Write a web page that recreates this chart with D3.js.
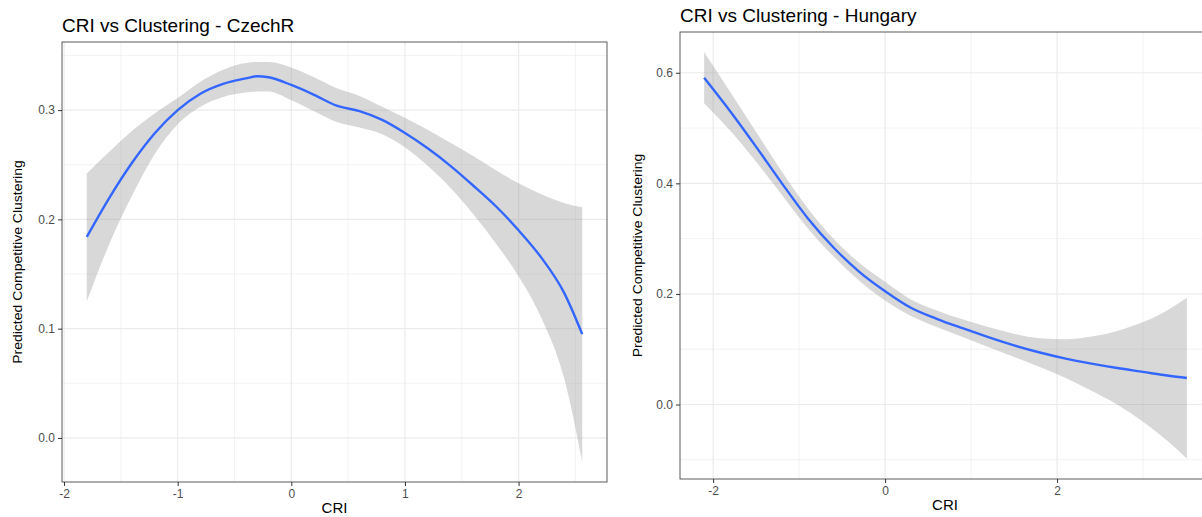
<!DOCTYPE html>
<html>
<head>
<meta charset="utf-8">
<script src="https://cdn.jsdelivr.net/npm/d3@7"></script>
<style>
  body { margin: 0; background: #fff; }
  svg { display: block; font-family: "Liberation Sans", Arial, sans-serif; }
  .grid line { stroke: #ebebeb; }
  .axis path { display: none; }
  .axis line { stroke: #333; }
  .axis text { fill: #4d4d4d; font-size: 12px; }
</style>
</head>
<body>
<div id="chart"></div>
<script>
// CzechR
const czCri = [-1.8, -1.6, -1.4, -1.2, -1.0, -0.8, -0.6, -0.4, -0.3, -0.2, 0.0, 0.2, 0.4, 0.6, 0.8, 1.0, 1.2, 1.4, 1.6, 1.8, 2.0, 2.2, 2.4, 2.56];
const czFit = [0.184, 0.220, 0.252, 0.279, 0.300, 0.315, 0.324, 0.329, 0.331, 0.330, 0.323, 0.314, 0.304, 0.299, 0.291, 0.279, 0.265, 0.249, 0.231, 0.212, 0.190, 0.165, 0.133, 0.095];
const czUpper = [0.242, 0.262, 0.281, 0.297, 0.311, 0.326, 0.337, 0.343, 0.344, 0.344, 0.339, 0.330, 0.320, 0.313, 0.303, 0.293, 0.282, 0.270, 0.258, 0.245, 0.233, 0.223, 0.215, 0.211];
const czLower = [0.125, 0.178, 0.222, 0.260, 0.287, 0.303, 0.312, 0.316, 0.317, 0.317, 0.309, 0.299, 0.289, 0.284, 0.278, 0.266, 0.249, 0.229, 0.205, 0.178, 0.148, 0.110, 0.055, -0.022];
const czXTicks = [-2, -1, 0, 1, 2];
const czYTicks = [0.0, 0.1, 0.2, 0.3];

// Hungary
const huCri = [-2.105, -1.8, -1.5, -1.2, -0.9, -0.6, -0.3, 0, 0.3, 0.6, 0.9, 1.2, 1.5, 1.8, 2.1, 2.4, 2.7, 3.0, 3.3, 3.51];
const huFit = [0.591, 0.530, 0.466, 0.400, 0.337, 0.284, 0.240, 0.205, 0.175, 0.155, 0.138, 0.122, 0.107, 0.094, 0.083, 0.074, 0.066, 0.059, 0.052, 0.048];
const huUpper = [0.637, 0.565, 0.493, 0.421, 0.355, 0.300, 0.256, 0.222, 0.190, 0.170, 0.154, 0.140, 0.128, 0.120, 0.118, 0.123, 0.133, 0.149, 0.172, 0.193];
const huLower = [0.545, 0.495, 0.439, 0.379, 0.319, 0.268, 0.224, 0.188, 0.160, 0.140, 0.122, 0.104, 0.086, 0.068, 0.048, 0.025, 0.000, -0.031, -0.068, -0.098];
const huXTicks = [-2, 0, 2];
const huYTicks = [0.0, 0.2, 0.4, 0.6];

const width = 1202, height = 517;

const svg = d3.select('#chart').append('svg')
  .attr('width', width)
  .attr('height', height);

// pad a range 5% each side, like ggplot does
function expand(lo, hi) {
  const p = (hi - lo) * 0.05;
  return [lo - p, hi + p];
}

function drawPanel(opt) {
  const { box, cri, fit, upper, lower, xTicks, yTicks, title, titleY } = opt;
  const x = d3.scaleLinear()
    .domain(expand(d3.min(cri), d3.max(cri)))
    .range([box.left, box.right]);
  const y = d3.scaleLinear()
    .domain(expand(d3.min(lower), d3.max(upper)))
    .range([box.bottom, box.top]);

  const xStep = xTicks[1] - xTicks[0], yStep = yTicks[1] - yTicks[0];
  const xMinor = d3.range(xTicks[0] - xStep / 2, xTicks[xTicks.length - 1] + xStep, xStep)
    .filter(v => v > x.domain()[0] && v < x.domain()[1]);
  const yMinor = d3.range(yTicks[0] - yStep / 2, yTicks[yTicks.length - 1] + yStep, yStep)
    .filter(v => v > y.domain()[0] && v < y.domain()[1]);

  const g = svg.append('g');

  g.append('defs').append('clipPath').attr('id', 'clip' + opt.id)
    .append('rect')
    .attr('x', box.left).attr('y', box.top)
    .attr('width', box.right - box.left).attr('height', box.bottom - box.top);

  // grid
  const grid = g.append('g').attr('class', 'grid');
  grid.selectAll('.xm').data(xMinor).enter().append('line')
    .attr('x1', d => x(d)).attr('x2', d => x(d))
    .attr('y1', box.top).attr('y2', box.bottom).attr('stroke-width', 0.6);
  grid.selectAll('.ym').data(yMinor).enter().append('line')
    .attr('y1', d => y(d)).attr('y2', d => y(d))
    .attr('x1', box.left).attr('x2', box.right).attr('stroke-width', 0.6);
  grid.selectAll('.xM').data(xTicks).enter().append('line')
    .attr('x1', d => x(d)).attr('x2', d => x(d))
    .attr('y1', box.top).attr('y2', box.bottom).attr('stroke-width', 1.2);
  grid.selectAll('.yM').data(yTicks).enter().append('line')
    .attr('y1', d => y(d)).attr('y2', d => y(d))
    .attr('x1', box.left).attr('x2', box.right).attr('stroke-width', 1.2);

  const pts = cri.map((c, i) => ({ c: c, fit: fit[i], up: upper[i], lo: lower[i] }));

  const area = d3.area()
    .x(d => x(d.c)).y0(d => y(d.lo)).y1(d => y(d.up))
    .curve(d3.curveMonotoneX);
  const line = d3.line()
    .x(d => x(d.c)).y(d => y(d.fit))
    .curve(d3.curveMonotoneX);

  const plot = g.append('g').attr('clip-path', 'url(#clip' + opt.id + ')');
  plot.append('path').datum(pts)
    .attr('d', area)
    .attr('fill', '#999999').attr('fill-opacity', 0.38);
  plot.append('path').datum(pts)
    .attr('d', line)
    .attr('fill', 'none').attr('stroke', '#3366ff').attr('stroke-width', 2.4);

  // panel border
  g.append('rect')
    .attr('x', box.left).attr('y', box.top)
    .attr('width', box.right - box.left).attr('height', box.bottom - box.top)
    .attr('fill', 'none').attr('stroke', '#333').attr('stroke-width', 0.8);

  // axes
  g.append('g').attr('class', 'axis')
    .attr('transform', 'translate(0,' + box.bottom + ')')
    .call(d3.axisBottom(x).tickValues(xTicks).tickSize(4).tickPadding(3).tickFormat(d3.format('d')));
  g.append('g').attr('class', 'axis')
    .attr('transform', 'translate(' + box.left + ',0)')
    .call(d3.axisLeft(y).tickValues(yTicks).tickSize(4).tickPadding(3).tickFormat(d3.format('.1f')));

  g.selectAll('.axis text').text(function () { return this.textContent.replace('−', '-'); });

  // titles
  g.append('text')
    .attr('x', box.left).attr('y', titleY)
    .attr('font-size', 19).attr('fill', '#000')
    .text(title);
  g.append('text')
    .attr('x', (box.left + Math.min(box.right, width)) / 2 + opt.xLabelShift).attr('y', box.bottom + 31)
    .attr('text-anchor', 'middle').attr('font-size', 15).attr('fill', '#000')
    .text('CRI');
  g.append('text')
    .attr('transform', 'translate(' + opt.yLabelX + ',' + ((box.top + box.bottom) / 2) + ') rotate(-90) scale(1,0.9)')
    .attr('text-anchor', 'middle').attr('font-size', 14).attr('fill', '#000')
    .text('Predicted Competitive Clustering');
}

drawPanel({
  id: 'cz', box: { left: 62, right: 607, top: 42, bottom: 482 },
  cri: czCri, fit: czFit, upper: czUpper, lower: czLower,
  xTicks: czXTicks, yTicks: czYTicks,
  title: 'CRI vs Clustering - CzechR', titleY: 32, yLabelX: 22, xLabelShift: 0
});

drawPanel({
  id: 'hu', box: { left: 680, right: 1211, top: 32, bottom: 479 },
  cri: huCri, fit: huFit, upper: huUpper, lower: huLower,
  xTicks: huXTicks, yTicks: huYTicks,
  title: 'CRI vs Clustering - Hungary', titleY: 22, yLabelX: 642, xLabelShift: 4
});
</script>
</body>
</html>
